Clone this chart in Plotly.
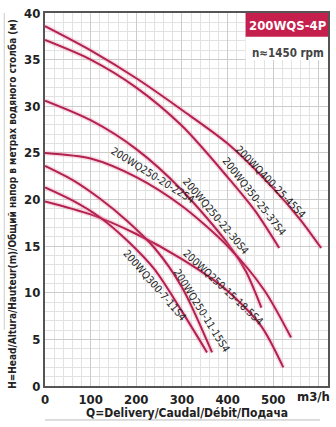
import plotly.graph_objects as go

# ---- data ----
curve_names = [
    "200WQ400-25-45S4",
    "200WQ350-25-37S4",
    "200WQ250-22-30S4",
    "200WQ250-20-22S4",
    "200WQ250-15-18.5S4",
    "200WQ250-11-15S4",
    "200WQ300-7-11S4",
]

q_400_25_45 = [0, 100, 200, 300, 400, 500, 560, 605]
h_400_25_45 = [38.6, 36.0, 33.0, 29.6, 26.0, 21.2, 17.8, 14.8]

q_350_25_37 = [0, 100, 200, 300, 400, 460, 513]
h_350_25_37 = [37.1, 35.0, 32.0, 27.9, 22.4, 18.8, 14.8]

q_250_22_30 = [0, 100, 200, 300, 400, 440, 474]
h_250_22_30 = [30.6, 28.5, 25.4, 21.0, 15.3, 12.3, 8.4]

q_250_20_22 = [0, 100, 200, 300, 400, 480, 539]
h_250_20_22 = [25.0, 24.4, 22.4, 19.3, 15.0, 10.3, 5.2]

q_250_15_18 = [0, 100, 200, 300, 400, 474, 522]
h_250_15_18 = [19.8, 18.4, 16.3, 13.6, 10.2, 6.4, 2.0]

q_250_11_15 = [0, 60, 120, 180, 240, 300, 366]
h_250_11_15 = [23.6, 22.1, 20.1, 17.7, 14.8, 10.6, 3.6]

q_300_7_11 = [0, 60, 120, 180, 240, 300, 355]
h_300_7_11 = [21.3, 19.9, 18.1, 15.6, 12.5, 8.0, 3.6]

# label anchor (Q, H) and text angle for each curve label
label_q = [496, 459, 375, 237, 391, 343, 241]
label_h = [21.9, 20.4, 18.2, 22.6, 10.6, 8.1, 10.8]
label_angle = [46, 52, 50, 32, 43, 58, 49]

x_tick_vals = [0, 100, 200, 300, 400, 500, 600]
x_tick_text = ["0", "100", "200", "300", "400", "500", ""]
y_tick_vals = [0, 5, 10, 15, 20, 25, 30, 35, 40]

model_title = "200WQS-4P"
speed_text = "n≈1450 rpm"
x_title = "Q=Delivery/Caudal/Débit/Подача"
y_title = "H=Head/Altura/Hauteur(m)/Общий напор в метрах водяного столба (м)"
unit_text = "m3/h"

curves = [
    (q_400_25_45, h_400_25_45),
    (q_350_25_37, h_350_25_37),
    (q_250_22_30, h_250_22_30),
    (q_250_20_22, h_250_20_22),
    (q_250_15_18, h_250_15_18),
    (q_250_11_15, h_250_11_15),
    (q_300_7_11, h_300_7_11),
]

FONT = "DejaVu Sans Condensed, Liberation Sans Narrow, sans-serif"
LINE = "#b3224e"
GLOW = "rgba(235,120,160,0.25)"

fig = go.Figure()
for name, (q, h) in zip(curve_names, curves):
    fig.add_trace(go.Scatter(x=q, y=h, mode="lines", hoverinfo="skip",
                             line=dict(color=GLOW, width=5, shape="spline", smoothing=0.8),
                             showlegend=False))
    fig.add_trace(go.Scatter(x=q, y=h, mode="lines", name=name,
                             line=dict(color=LINE, width=2, shape="spline", smoothing=0.8),
                             showlegend=False))

annotations = []
for name, lq, lh, ang in zip(curve_names, label_q, label_h, label_angle):
    annotations.append(dict(x=lq, y=lh, xref="x", yref="y", text=name, showarrow=False,
                            xanchor="center", yanchor="middle",
                            textangle=ang, font=dict(family=FONT, size=10.5, color="#222")))

# titles & decorations (paper coordinates)
def paper_note(x, y, text, size, color, angle=0):
    return dict(x=x, y=y, xref="paper", yref="paper", text=text, showarrow=False,
                xanchor="center", yanchor="middle", textangle=angle,
                font=dict(family=FONT, size=size, color=color, weight="bold"))

annotations += [
    paper_note(-0.116, 0.489, y_title, 10, "#222", -90),
    paper_note(0.5, -0.0735, x_title, 12, "#222"),
    paper_note(0.947, -0.029, unit_text, 13, "#222"),
    paper_note(0.86, 0.967, model_title, 13, "white"),
    paper_note(0.86, 0.892, speed_text, 11.5, "#444"),
]

shapes = [
    dict(type="rect", xref="paper", yref="paper", x0=0.709, x1=1.0, y0=0.874, y1=0.936,
         fillcolor="white", line=dict(width=0), layer="above"),
    dict(type="rect", xref="paper", yref="paper", x0=0.709, x1=1.0, y0=0.936, y1=1.0,
         fillcolor="#c51f4d", line=dict(width=0), layer="above"),
    dict(type="line", xref="paper", yref="paper", x0=0, x1=0.972, y0=-0.091, y1=-0.091,
         line=dict(color="#bbbbbb", width=1)),
    dict(type="line", xref="paper", yref="paper", x0=-0.144, x1=-0.144, y0=0.15, y1=1.0,
         line=dict(color="#cccccc", width=1)),
]

fig.update_layout(
    width=336, height=427,
    margin=dict(l=45, r=6, t=12, b=41),
    paper_bgcolor="white", plot_bgcolor="white",
    showlegend=False,
    annotations=annotations,
    shapes=shapes,
)

fig.update_xaxes(
    range=[0, 620], tickmode="array", tickvals=x_tick_vals, ticktext=x_tick_text,
    showgrid=True, gridcolor="#cccccc", gridwidth=1,
    minor=dict(tickmode="linear", tick0=0, dtick=20, showgrid=True, gridcolor="#e2e2e2", gridwidth=1),
    showline=True, linecolor="#555555", linewidth=2, mirror=True, ticks="",
    zeroline=False, tickfont=dict(family=FONT, size=13, color="#222", weight="bold"),
)
fig.update_yaxes(
    range=[0, 40], tickmode="array", tickvals=y_tick_vals,
    showgrid=True, gridcolor="#cccccc", gridwidth=1,
    minor=dict(tickmode="linear", tick0=0, dtick=1, showgrid=True, gridcolor="#e2e2e2", gridwidth=1),
    showline=True, linecolor="#555555", linewidth=2, mirror=True, ticks="",
    zeroline=False, tickfont=dict(family=FONT, size=13, color="#222", weight="bold"),
)

fig.write_html("out.html")
